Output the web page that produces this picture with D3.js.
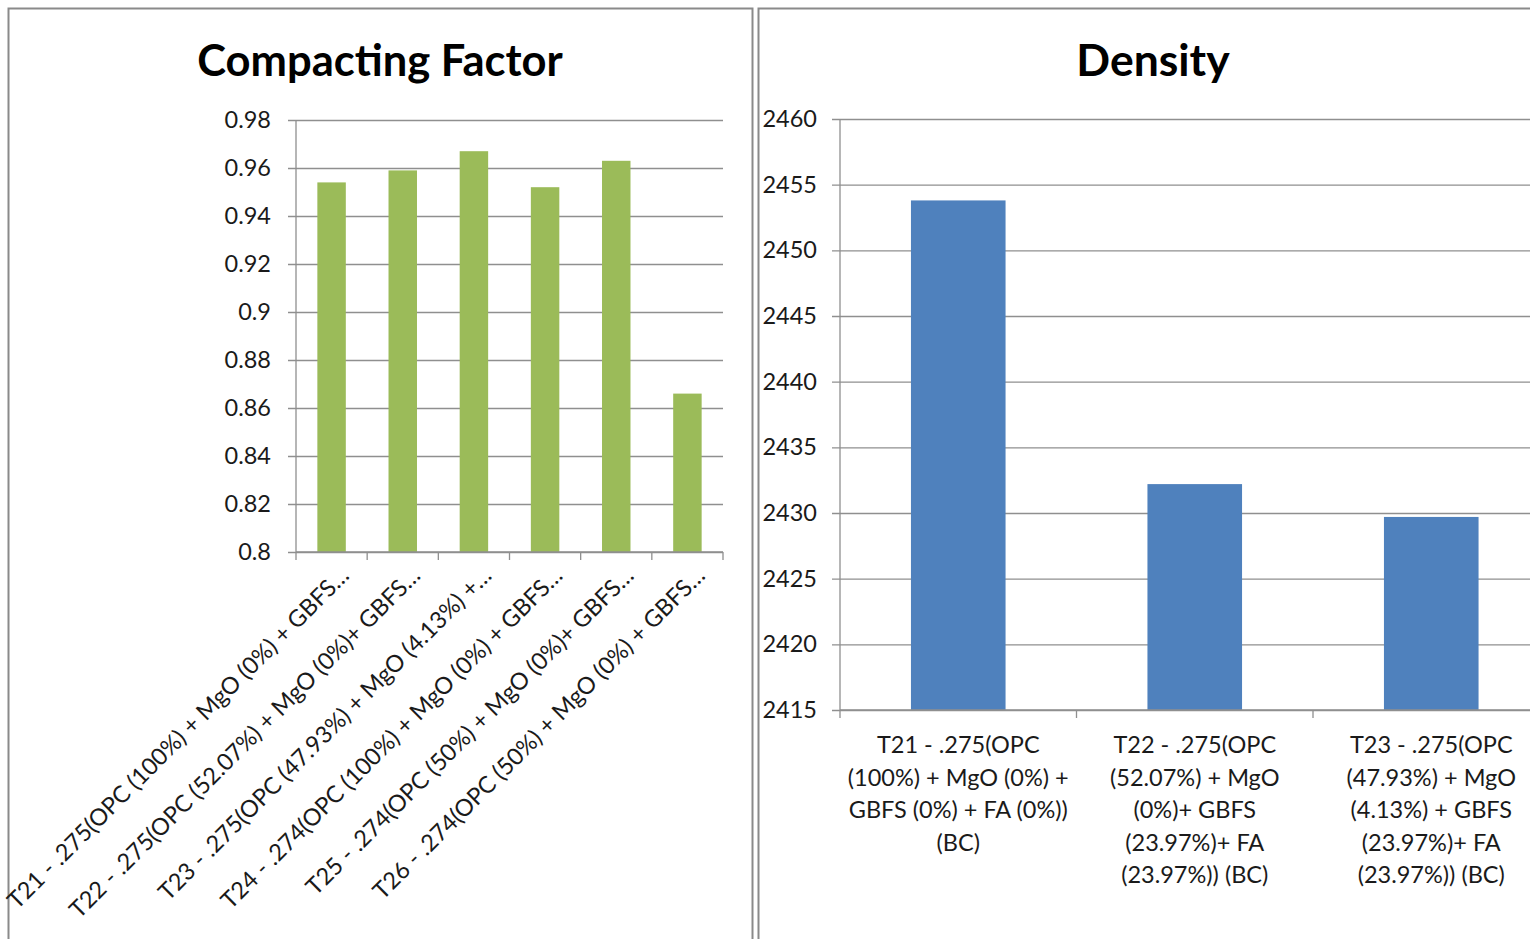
<!DOCTYPE html>
<html>
<head>
<meta charset="utf-8">
<script src="https://cdn.jsdelivr.net/npm/d3@7"></script>
<style>
  html, body { margin: 0; padding: 0; background: #fff; }
  svg { display: block; }
  text { font-family: Lato, "Open Sans", sans-serif; }
</style>
</head>
<body>
<svg id="chart" width="1530" height="939"></svg>
<script>
// Compacting factor of mixes T21–T26
const cfCategories = [
  "T21 - .275(OPC (100%) + MgO (0%) + GBFS…",
  "T22 - .275(OPC (52.07%) + MgO (0%)+ GBFS…",
  "T23 - .275(OPC (47.93%) + MgO (4.13%) +…",
  "T24 - .274(OPC (100%) + MgO (0%) + GBFS…",
  "T25 - .274(OPC (50%) + MgO (0%)+ GBFS…",
  "T26 - .274(OPC (50%) + MgO (0%) + GBFS…"
];
const cfValues = [0.954, 0.959, 0.967, 0.952, 0.963, 0.866];
const cfTicks = [0.8, 0.82, 0.84, 0.86, 0.88, 0.9, 0.92, 0.94, 0.96, 0.98];

// Density of mixes T21–T23 (kg/m³)
const denCategories = [
  ["T21 - .275(OPC", "(100%) + MgO (0%) +", "GBFS (0%) + FA (0%))", "(BC)"],
  ["T22 - .275(OPC", "(52.07%) + MgO", "(0%)+ GBFS", "(23.97%)+ FA", "(23.97%)) (BC)"],
  ["T23 - .275(OPC", "(47.93%) + MgO", "(4.13%) + GBFS", "(23.97%)+ FA", "(23.97%)) (BC)"]
];
const denValues = [2453.8, 2432.2, 2429.7];
const denTicks = [2415, 2420, 2425, 2430, 2435, 2440, 2445, 2450, 2455, 2460];

const svg = d3.select("#chart");
const gridColor = "#8f8f8f";
const borderColor = "#8a8a8a";
const textColor = "#1a1a1a";

// panel frames
svg.append("rect").attr("x", 8.5).attr("y", 8.5).attr("width", 744).attr("height", 960)
  .attr("fill", "none").attr("stroke", borderColor).attr("stroke-width", 2);
svg.append("rect").attr("x", 758.5).attr("y", 8.5).attr("width", 800).attr("height", 960)
  .attr("fill", "none").attr("stroke", borderColor).attr("stroke-width", 2);

// ---------- Compacting Factor ----------
{
  const left = 296, right = 723, top = 120, bottom = 552;
  const x = d3.scaleBand().domain(cfCategories).range([left, right]).paddingInner(0.6).paddingOuter(0.3);
  const xb = d3.scaleBand().domain(cfCategories).range([left, right]);
  const y = d3.scaleLinear().domain([0.8, 0.98]).range([bottom, top]);
  const g = svg.append("g");

  g.append("text").attr("x", 380).attr("y", 76).attr("text-anchor", "middle")
    .attr("font-size", 43.5).attr("font-weight", 700).attr("fill", "#000")
    .text("Compacting Factor");

  // gridlines + y ticks
  g.append("g").attr("transform", `translate(${left},0)`)
    .call(d3.axisLeft(y).tickValues(cfTicks).tickSize(-(right - left)).tickSizeOuter(0)
      .tickPadding(25).tickFormat(d => String(+d.toFixed(2))))
    .call(a => a.select(".domain").remove())
    .call(a => a.selectAll(".tick line").attr("stroke", gridColor).attr("stroke-width", 1.3).attr("x1", -8))
    .call(a => a.selectAll(".tick text").attr("font-size", 23.5).attr("fill", textColor)
      .attr("font-family", "Lato, sans-serif"));

  // y axis line
  g.append("line").attr("x1", left).attr("x2", left).attr("y1", top).attr("y2", bottom)
    .attr("stroke", gridColor).attr("stroke-width", 1.3);

  // bars
  g.selectAll("rect.bar").data(cfValues).join("rect").attr("class", "bar")
    .attr("x", (d, i) => x(cfCategories[i]))
    .attr("width", x.bandwidth())
    .attr("y", d => y(d)).attr("height", d => y(0.8) - y(d))
    .attr("fill", "#9BBB59");

  // x axis with category boundary ticks
  g.append("line").attr("x1", left).attr("x2", right).attr("y1", bottom).attr("y2", bottom)
    .attr("stroke", gridColor).attr("stroke-width", 1.3);
  const bounds = cfCategories.map(c => xb(c)).concat([right]);
  g.selectAll("line.xt").data(bounds).join("line").attr("class", "xt")
    .attr("x1", d => d).attr("x2", d => d).attr("y1", bottom).attr("y2", bottom + 8)
    .attr("stroke", gridColor).attr("stroke-width", 1.3);

  // rotated category labels
  g.selectAll("text.cat").data(cfCategories).join("text").attr("class", "cat")
    .attr("transform", d => `translate(${xb(d) + xb.bandwidth() / 2 + 19},577) rotate(-45)`)
    .attr("text-anchor", "end").attr("font-size", 23.5).attr("fill", textColor)
    .text(d => d);
}

// ---------- Density ----------
{
  const left = 840, bandW = 236.5, top = 119, bottom = 710;
  const right = left + bandW * denCategories.length;
  const keys = denCategories.map((c, i) => i);
  const x = d3.scaleBand().domain(keys).range([left, right]).paddingInner(0.6).paddingOuter(0.3);
  const xb = d3.scaleBand().domain(keys).range([left, right]);
  const y = d3.scaleLinear().domain([2415, 2460]).range([bottom, top]);
  const g = svg.append("g");

  g.append("text").attr("x", 1153).attr("y", 76).attr("text-anchor", "middle")
    .attr("font-size", 44.5).attr("font-weight", 700).attr("fill", "#000")
    .text("Density");

  g.append("g").attr("transform", `translate(${left},0)`)
    .call(d3.axisLeft(y).tickValues(denTicks).tickSize(-(right - left)).tickSizeOuter(0)
      .tickPadding(23).tickFormat(d3.format("d")))
    .call(a => a.select(".domain").remove())
    .call(a => a.selectAll(".tick line").attr("stroke", gridColor).attr("stroke-width", 1.3).attr("x1", -8))
    .call(a => a.selectAll(".tick text").attr("font-size", 23.5).attr("fill", textColor)
      .attr("font-family", "Lato, sans-serif"));

  g.append("line").attr("x1", left).attr("x2", left).attr("y1", top).attr("y2", bottom)
    .attr("stroke", gridColor).attr("stroke-width", 1.3);

  g.selectAll("rect.bar").data(denValues).join("rect").attr("class", "bar")
    .attr("x", (d, i) => x(i)).attr("width", x.bandwidth())
    .attr("y", d => y(d)).attr("height", d => y(2415) - y(d))
    .attr("fill", "#4F81BD");

  g.append("line").attr("x1", left).attr("x2", right).attr("y1", bottom).attr("y2", bottom)
    .attr("stroke", gridColor).attr("stroke-width", 1.3);
  const bounds = keys.map(k => xb(k)).concat([right]);
  g.selectAll("line.xt").data(bounds).join("line").attr("class", "xt")
    .attr("x1", d => d).attr("x2", d => d).attr("y1", bottom).attr("y2", bottom + 8)
    .attr("stroke", gridColor).attr("stroke-width", 1.3);

  const lab = g.selectAll("text.cat").data(denCategories).join("text").attr("class", "cat")
    .attr("text-anchor", "middle").attr("font-size", 23.5).attr("fill", textColor);
  lab.each(function (lines, i) {
    d3.select(this).selectAll("tspan").data(lines).join("tspan")
      .attr("x", xb(i) + xb.bandwidth() / 2)
      .attr("y", (d, j) => 753 + j * 32.5)
      .text(d => d);
  });
}
</script>
</body>
</html>
